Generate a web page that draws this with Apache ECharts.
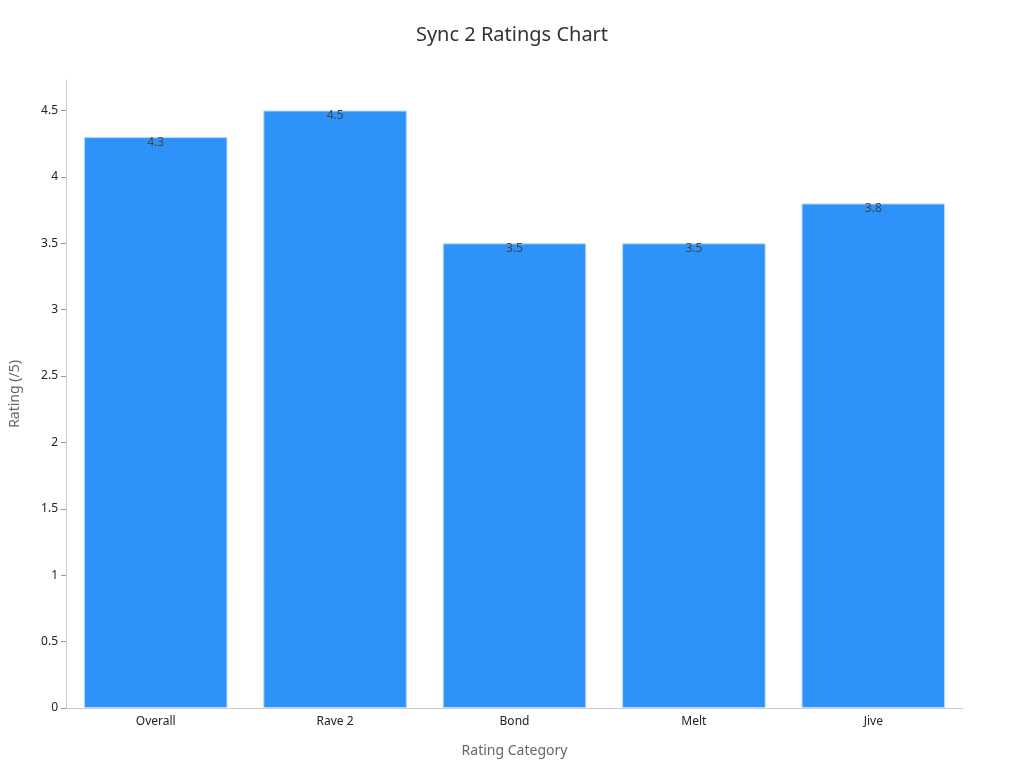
<!DOCTYPE html>
<html><head><meta charset="utf-8">
<script src="https://cdn.jsdelivr.net/npm/echarts@6/dist/echarts.min.js"></script>
<style>html,body{margin:0;padding:0;background:#fff}#c{width:1024px;height:768px}</style>
</head><body><div id="c"></div>
<script>
const categories = ["Overall","Rave 2","Bond","Melt","Jive"];
const ratings = [4.3,4.5,3.5,3.5,3.8];
const chart = echarts.init(document.getElementById('c'));
chart.setOption({
  animation:false,
  title:{text:"Sync 2 Ratings Chart",left:'center',top:20,textStyle:{fontFamily:'Noto Sans',fontWeight:'normal',fontSize:20,color:'#333'}},
  grid:{left:64,right:61,top:80,bottom:60},
  xAxis:{type:'category',data:categories,name:'Rating Category',nameLocation:'middle',nameGap:36,
    nameTextStyle:{fontFamily:'Noto Sans',fontSize:14,color:'#666'},
    axisLine:{lineStyle:{color:'#ccc'}},axisTick:{show:false},
    axisLabel:{fontFamily:'Noto Sans',fontSize:12,color:'#222'}},
  yAxis:{type:'value',min:0,max:4.73,interval:0.5,name:'Rating (/5)',nameLocation:'middle',nameGap:44,
    nameTextStyle:{fontFamily:'Noto Sans',fontSize:14,color:'#666'},
    axisLine:{show:true,lineStyle:{color:'#ccc'}},axisTick:{show:true,lineStyle:{color:'#999'}},
    splitLine:{show:false},
    axisLabel:{showMaxLabel:false,fontFamily:'Noto Sans',fontSize:12,color:'#222'}},
  series:[{type:'bar',data:ratings,barWidth:'80%',
    itemStyle:{color:'#2E93F8',borderColor:'#b8d8f8',borderWidth:1},
    label:{show:true,position:'insideTop',offset:[0,-6],color:'#444',fontFamily:'Noto Sans',fontSize:12}}]
});
</script></body></html>
